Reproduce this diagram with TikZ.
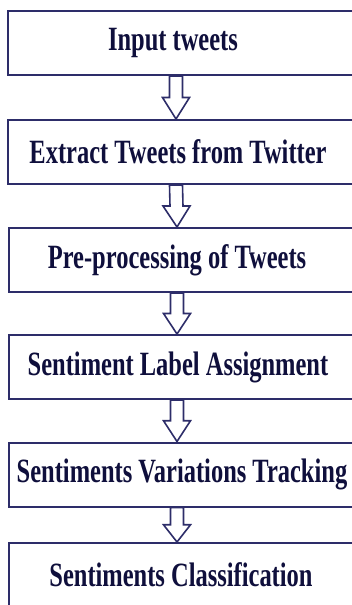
\documentclass[tikz,border=0pt]{standalone}
\usepackage{fontspec}
\setmainfont{Liberation Serif}[FakeStretch=0.72]
\usepackage{tikz}
\usetikzlibrary{positioning,calc}
\definecolor{flownavy}{RGB}{45,45,105}
\definecolor{flowtext}{RGB}{15,15,60}
\tikzset{
    stepbox/.style={rectangle, draw=flownavy, line width=1pt, fill=white, minimum width=175pt, minimum height=32pt, inner sep=0pt, text=flowtext, font=\fontsize{17}{20}\selectfont\bfseries},
    textleft/.style={execute at begin node={\hspace*{-#1}}},
    flowarrow/.style={draw=flownavy, line width=0.8pt, fill=white, line join=miter}
}
% hollow block arrow from box #1 to box #2
\newcommand{\hollowarrow}[2]{%
    \draw[flowarrow]
        ($(#1.south)+(-13.5,0)$) -- ($(#1.south)!0.5!(#2.north)+(-13.5,0)$)
        -- ($(#1.south)!0.5!(#2.north)+(-20.5,0)$) -- ($(#2.north)+(-7,0)$)
        -- ($(#1.south)!0.5!(#2.north)+(6.5,0)$) -- ($(#1.south)!0.5!(#2.north)+(-0.5,0)$)
        -- ($(#1.south)+(-0.5,0)$) -- cycle;
}

\begin{document}
\begin{tikzpicture}[x=0.5pt, y=0.5pt]
    \path[use as bounding box, clip] (0,0) rectangle (352,-605);

    % Define coordinate nodes first
    \coordinate (c1) at (183,-43);
    \coordinate (c2) at (183,-152);
    \coordinate (c3) at (184,-260);
    \coordinate (c4) at (184,-367);
    \coordinate (c5) at (184,-474.5);
    \coordinate (c6) at (184,-575);

    % Steps
    \node[stepbox, textleft=10pt] at (c1) (inputtw) {Input tweets};
    \node[stepbox, textleft=5pt] at (c2) (extract) {Extract Tweets from Twitter};
    \node[stepbox, textleft=7pt] at (c3) (preproc) {Pre-processing of Tweets};
    \node[stepbox, textleft=6pt] at (c4) (labelassign) {Sentiment Label Assignment};
    \node[stepbox, textleft=2pt] at (c5) (tracking) {Sentiments Variations Tracking};
    \node[stepbox, textleft=3pt] at (c6) (classify) {Sentiments Classification};

    % Arrows
    \hollowarrow{inputtw}{extract}
    \hollowarrow{extract}{preproc}
    \hollowarrow{preproc}{labelassign}
    \hollowarrow{labelassign}{tracking}
    \hollowarrow{tracking}{classify}
\end{tikzpicture}
\end{document}
